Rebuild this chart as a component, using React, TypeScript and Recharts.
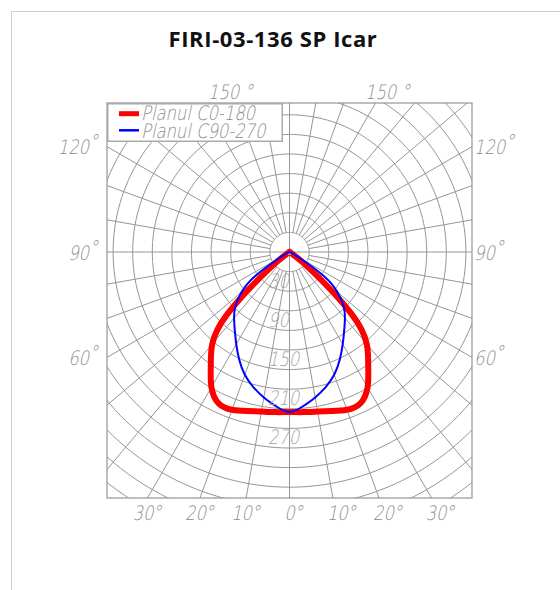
import React from 'react';
import { ScatterChart, Scatter, XAxis, YAxis, ReferenceArea, Legend } from 'recharts';

// ---------------- data ----------------
const TITLE = 'FIRI-03-136 SP Icar';
const GAMMA = [0, 5, 10, 15, 20, 25, 30, 35, 40, 45, 50, 55, 60, 65, 70, 75, 80, 85, 90];
const C0_180 = [245, 246, 248, 252, 257, 256, 239, 210, 184, 135, 46, 4, 0, 0, 0, 0, 0, 0, 0];
const C90_270 = [245, 237, 226, 214, 200, 182, 163, 146, 132, 117, 96, 64, 16, 0, 0, 0, 0, 0, 0];
const SERIES_NAMES = ['Planul C0-180', 'Planul C90-270'];
const SERIES_COLORS = ['#ff0000', '#0000ff'];
const RING_VALUES = [30, 60, 90, 120, 150, 180, 210, 240, 270, 300, 330, 360, 390, 420, 450, 480];
const RING_LABELS = [30, 90, 150, 210, 270];
const SPOKE_ANGLES = [0, 10, 20, 30, 40, 50, 60, 70, 80, 90, 100, 110, 120, 130, 140, 150, 160, 170,
  180, 190, 200, 210, 220, 230, 240, 250, 260, 270, 280, 290, 300, 310, 320, 330, 340, 350];
const ANGLE_LABELS = [0, 10, 20, 30, 60, 90, 120, 150];

// ---------------- layout ----------------
const W = 560;
const H = 590;
const BOX = { left: 107, top: 103, right: 472, bottom: 498 };
const CENTER = { x: 289.5, y: 252 };
const PX_PER_30CD = 19.6;
const CD_PER_PX = 30 / PX_PER_30CD;
const X_DOMAIN: [number, number] = [(BOX.left - CENTER.x) * CD_PER_PX, (BOX.right - CENTER.x) * CD_PER_PX];
const Y_DOMAIN: [number, number] = [-(BOX.bottom - CENTER.y) * CD_PER_PX, (CENTER.y - BOX.top) * CD_PER_PX];

const rad = (d: number) => (d * Math.PI) / 180;
// angle measured from nadir (down); side = +1 right half, -1 left half
const polar = (r: number, deg: number, side = 1) => ({
  x: side * r * Math.sin(rad(deg)),
  y: -r * Math.cos(rad(deg)),
});

function curvePoints(vals: number[]) {
  let last = vals.findIndex((v) => v === 0);
  if (last < 0) last = vals.length - 1;
  const pts: { x: number; y: number }[] = [];
  for (let i = last; i >= 1; i--) pts.push(polar(vals[i], GAMMA[i], -1));
  for (let i = 0; i <= last; i++) pts.push(polar(vals[i], GAMMA[i], 1));
  return pts;
}

function ringPoints(r: number) {
  const pts: { x: number; y: number }[] = [];
  for (let d = 0; d <= 360; d += 2) pts.push(polar(r, d, 1));
  return pts;
}

function spokePoints(a: number) {
  const inner = a % 90 === 0 ? 0 : RING_VALUES[0];
  const outer = RING_VALUES[RING_VALUES.length - 1];
  return [polar(inner, a, 1), polar(outer, a, 1)];
}

function angleLabelData() {
  const out: any[] = [];
  ANGLE_LABELS.forEach((a) => {
    const sides = a === 0 ? [0] : [-1, 1];
    sides.forEach((side) => {
      const dx = Math.sin(rad(a));
      const dy = -Math.cos(rad(a));
      const tx = dx > 1e-9 ? X_DOMAIN[1] / dx : Infinity;
      const ty = dy < -1e-9 ? Y_DOMAIN[0] / dy : dy > 1e-9 ? Y_DOMAIN[1] / dy : Infinity;
      const t = Math.min(tx, ty);
      let edge = 'bottom';
      if (t === tx) edge = side < 0 ? 'left' : 'right';
      else edge = dy < 0 ? 'bottom' : 'top';
      let x = (side === 0 ? 0 : side) * dx * t;
      let y = dy * t;
      x = Math.max(X_DOMAIN[0], Math.min(X_DOMAIN[1], x));
      y = Math.max(Y_DOMAIN[0], Math.min(Y_DOMAIN[1], y));
      out.push({ x, y, text: String(a), edge, side });
    });
  });
  return out;
}

const ringLabelData = RING_LABELS.map((v) => ({ x: 0, y: -v, text: String(v) }));

// ---------------- text helpers ----------------
const FONT_SIZE = 20;
const SX = 0.82;
const SKEW = -12;
const DIGIT_W = FONT_SIZE * 0.636 * SX;
const LABEL_FILL = '#8c8c8c';

function CadText(props: { x: number; y: number; fill?: string; anchor?: string; children: any }) {
  return (
    <text
      transform={`translate(${props.x},${props.y}) skewX(${SKEW}) scale(${SX},1)`}
      x={0}
      y={0}
      textAnchor={props.anchor || 'start'}
      fontFamily="DejaVu Sans"
      fontWeight={200}
      fontSize={FONT_SIZE}
      fill={props.fill || LABEL_FILL}
    >
      {props.children}
    </text>
  );
}

const noShape = () => <g />;

function renderAngleLabel(p: any) {
  const { cx, cy, payload } = p;
  const { text, edge, side } = payload;
  const nw = text.length * DIGIT_W;
  let sx = cx;
  let by = cy;
  let degDx = -1;
  let degDy = 0;
  if (edge === 'bottom') {
    sx = cx + side * 4.5 - nw / 2;
    by = cy + 22;
  } else if (edge === 'top') {
    sx = side < 0 ? cx + 4.5 : cx - 10.5;
    by = cy - 4;
    degDx = 6;
  } else if (edge === 'left') {
    sx = cx - 18 - nw;
    by = cy + 7.5;
    degDy = -5;
  } else {
    sx = cx + 2;
    by = cy + 7.5;
    degDy = -5;
  }
  return (
    <CadText x={sx} y={by}>
      {text}
      <tspan dx={degDx} dy={degDy} fontSize={21}>°</tspan>
    </CadText>
  );
}

function renderRingLabel(p: any) {
  const { cx, cy, payload } = p;
  return (
    <CadText x={cx - 21.5} y={cy + 16} fill="#a2a2a2">
      {payload.text}
    </CadText>
  );
}

function LegendBox() {
  return (
    <svg width={176} height={39} style={{ display: 'block' }}>
      <rect x={0.75} y={0.75} width={174.5} height={37.5} fill="#ffffff" stroke="#aaaaaa" strokeWidth={1.5} />
      <line x1={12} x2={32} y1={10.7} y2={10.7} stroke={SERIES_COLORS[0]} strokeWidth={5} />
      <CadText x={34} y={17}>{SERIES_NAMES[0]}</CadText>
      <line x1={12} x2={32} y1={27.3} y2={27.3} stroke={SERIES_COLORS[1]} strokeWidth={2.5} />
      <CadText x={34} y={35}>{SERIES_NAMES[1]}</CadText>
    </svg>
  );
}

const GRID_COLOR = '#969696';

export default function App() {
  const red = curvePoints(C0_180);
  const blue = curvePoints(C90_270);
  const angleLabels = angleLabelData();
  return (
    <div style={{ position: 'absolute', left: 0, top: 0, width: W, height: H, background: '#fff' }}>
      <div
        style={{
          position: 'absolute',
          left: 11,
          top: 11,
          width: W - 11,
          height: H - 11,
          borderLeft: '1px solid #cfcfcf',
          borderTop: '1px solid #cfcfcf',
          boxSizing: 'border-box',
        }}
      />
      <svg width={W} height={60} style={{ position: 'absolute', left: 0, top: 0 }}>
        <text
          x={273}
          y={46.7}
          textAnchor="middle"
          fontFamily="Open Sans"
          fontWeight={700}
          fontSize={22}
          letterSpacing={0.6}
          fill="#111"
        >
          {TITLE}
        </text>
      </svg>
      <div style={{ position: 'absolute', left: 0, top: 0 }}>
        <ScatterChart
          width={W}
          height={H}
          margin={{ top: BOX.top, left: BOX.left, right: W - BOX.right, bottom: H - BOX.bottom }}
        >
          <XAxis type="number" dataKey="x" domain={X_DOMAIN} allowDataOverflow hide />
          <YAxis type="number" dataKey="y" domain={Y_DOMAIN} allowDataOverflow hide />
          <XAxis xAxisId="t" type="number" dataKey="x" domain={X_DOMAIN} hide />
          <YAxis yAxisId="t" type="number" dataKey="y" domain={Y_DOMAIN} hide />
          {RING_VALUES.map((r) => (
            <Scatter
              key={`ring-${r}`}
              data={ringPoints(r)}
              line={{ stroke: GRID_COLOR, strokeWidth: 1 }}
              shape={noShape}
              fill="none"
              legendType="none"
              isAnimationActive={false}
            />
          ))}
          {SPOKE_ANGLES.map((a) => (
            <Scatter
              key={`spoke-${a}`}
              data={spokePoints(a)}
              line={{ stroke: GRID_COLOR, strokeWidth: 1 }}
              shape={noShape}
              fill="none"
              legendType="none"
              isAnimationActive={false}
            />
          ))}
          <ReferenceArea
            x1={X_DOMAIN[0]}
            x2={X_DOMAIN[1]}
            y1={Y_DOMAIN[0]}
            y2={Y_DOMAIN[1]}
            fill="none"
            fillOpacity={0}
            stroke="#aaaaaa"
            strokeWidth={1.5}
          />
          <Scatter
            name={SERIES_NAMES[0]}
            data={red}
            line={{ stroke: SERIES_COLORS[0], strokeWidth: 6, strokeLinejoin: 'round' }}
            lineJointType="natural"
            shape={noShape}
            fill="none"
            isAnimationActive={false}
          />
          <Scatter
            name={SERIES_NAMES[1]}
            data={blue}
            line={{ stroke: SERIES_COLORS[1], strokeWidth: 2, strokeLinejoin: 'round' }}
            lineJointType="natural"
            shape={noShape}
            fill="none"
            isAnimationActive={false}
          />
          <Scatter
            xAxisId="t"
            yAxisId="t"
            data={ringLabelData}
            shape={renderRingLabel}
            legendType="none"
            isAnimationActive={false}
          />
          <Scatter
            xAxisId="t"
            yAxisId="t"
            data={angleLabels}
            shape={renderAngleLabel}
            legendType="none"
            isAnimationActive={false}
          />
          <Legend
            layout="horizontal"
            verticalAlign="middle"
            align="center"
            wrapperStyle={{ left: BOX.left, top: BOX.top, width: 176, height: 39 }}
            content={() => <LegendBox />}
          />
        </ScatterChart>
      </div>
    </div>
  );
}
